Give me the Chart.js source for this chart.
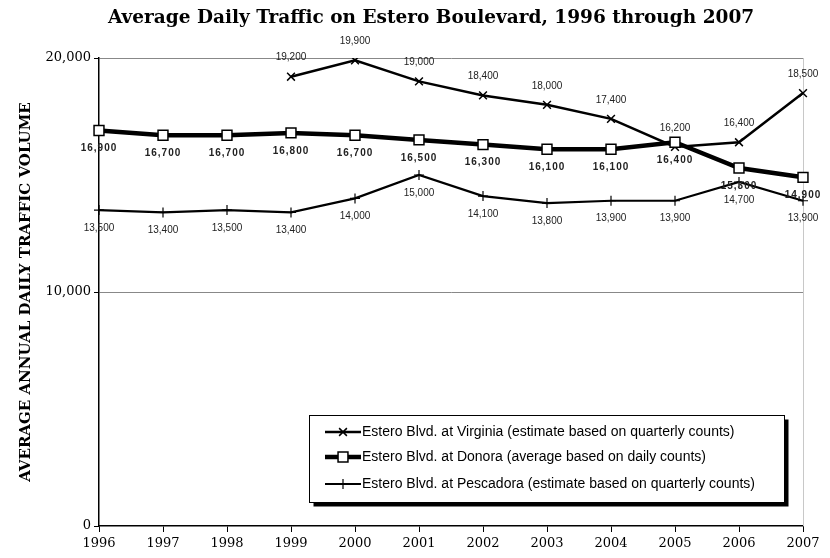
<!DOCTYPE html>
<html>
<head>
<meta charset="utf-8">
<script src="https://cdn.jsdelivr.net/npm/chart.js@4"></script>
<style>
  html, body { margin: 0; padding: 0; background: #fff; }
  canvas { display: block; }
</style>
</head>
<body>
<canvas id="myChart" width="830" height="558"></canvas>
<script>
// #region data
const years = ['1996', '1997', '1998', '1999', '2000', '2001', '2002', '2003', '2004', '2005', '2006', '2007'];

const virginia = [null, null, null, 19200, 19900, 19000, 18400, 18000, 17400, 16200, 16400, 18500];
const donora = [16900, 16700, 16700, 16800, 16700, 16500, 16300, 16100, 16100, 16400, 15300, 14900];
const pescadora = [13500, 13400, 13500, 13400, 14000, 15000, 14100, 13800, 13900, 13900, 14700, 13900];

const seriesNames = [
    'Estero Blvd. at Virginia (estimate based on quarterly counts)',
    'Estero Blvd. at Donora (average based on daily counts)',
    'Estero Blvd. at Pescadora (estimate based on quarterly counts)'
];

const yTicks = [0, 10000, 20000];
const chartTitle = 'Average Daily Traffic on Estero Boulevard, 1996 through 2007';
const yTitle = 'AVERAGE ANNUAL DAILY TRAFFIC VOLUME';
// #endregion data

const fmt = v => v.toLocaleString('en-US');

// title drawn by hand so it sits where the original one does
const titlePlugin = {
    id: 'titlePlugin',
    afterDraw(chart) {
        const ctx = chart.ctx;
        ctx.save();
        ctx.font = 'bold 18.5px "DejaVu Serif"';
        ctx.fillStyle = '#000';
        ctx.textAlign = 'center';
        ctx.textBaseline = 'alphabetic';
        ctx.fillText(chartTitle, 431, 23);
        ctx.restore();
    }
};

// thin grey line on the right edge of the plot
const frame = {
    id: 'frame',
    beforeDatasetsDraw(chart) {
        const { ctx, chartArea: a } = chart;
        ctx.save();
        ctx.strokeStyle = '#c8c8c8';
        ctx.lineWidth = 1;
        ctx.beginPath();
        ctx.moveTo(a.right + 0.5, a.top);
        ctx.lineTo(a.right + 0.5, a.bottom);
        ctx.stroke();
        ctx.restore();
    }
};

// value labels next to every point
const pointLabels = {
    id: 'pointLabels',
    afterDatasetsDraw(chart) {
        const ctx = chart.ctx;
        chart.data.datasets.forEach((ds, i) => {
            const meta = chart.getDatasetMeta(i);
            ctx.save();
            ctx.font = ds.labelFont;
            ctx.letterSpacing = ds.labelSpacing || '0px';
            ctx.fillStyle = '#222';
            ctx.textAlign = 'center';
            ctx.textBaseline = 'middle';
            meta.data.forEach((pt, j) => {
                const v = ds.data[j];
                if (v === null) return;
                ctx.fillText(fmt(v), pt.x, pt.y + ds.labelOffset);
            });
            ctx.restore();
        });
    }
};

// boxed legend with a drop shadow, inside the plot
const boxLegend = {
    id: 'boxLegend',
    afterDraw(chart) {
        const ctx = chart.ctx;
        const box = { x: 309.5, y: 415.5, w: 475, h: 87 };
        const rows = [432, 457, 484];
        ctx.save();
        ctx.fillStyle = '#000';
        ctx.fillRect(box.x + 4, box.y + 4, box.w, box.h);
        ctx.fillStyle = '#fff';
        ctx.fillRect(box.x, box.y, box.w, box.h);
        ctx.strokeStyle = '#000';
        ctx.lineWidth = 1;
        ctx.strokeRect(box.x, box.y, box.w, box.h);

        ctx.font = '14px "Liberation Sans", Arial, sans-serif';
        ctx.textBaseline = 'middle';
        chart.data.datasets.forEach((ds, i) => {
            const y = rows[i];
            ctx.strokeStyle = '#000';
            ctx.lineWidth = ds.borderWidth;
            ctx.beginPath();
            ctx.moveTo(325, y);
            ctx.lineTo(361, y);
            ctx.stroke();
            ctx.fillStyle = ds.pointBackgroundColor;
            ctx.lineWidth = ds.pointBorderWidth;
            Chart.helpers.drawPoint(ctx, {
                pointStyle: ds.pointStyle,
                radius: ds.pointRadius,
                borderWidth: ds.pointBorderWidth,
                rotation: 0
            }, 343, y);
            ctx.fillStyle = '#000';
            ctx.fillText(ds.label, 362, y);
        });
        ctx.restore();
    }
};

const ctx = document.getElementById('myChart').getContext('2d');

new Chart(ctx, {
    type: 'line',
    data: {
        labels: years,
        datasets: [
            {
                label: seriesNames[0],
                data: virginia,
                borderColor: '#000',
                borderWidth: 2.5,
                pointStyle: 'crossRot',
                pointRadius: 5.5,
                pointBorderWidth: 1.5,
                pointBorderColor: '#000',
                pointBackgroundColor: '#000',
                spanGaps: false,
                order: 1,
                labelFont: '10px "Liberation Sans Narrow", "Liberation Sans", sans-serif',
                labelOffset: -19
            },
            {
                label: seriesNames[1],
                data: donora,
                borderColor: '#000',
                borderWidth: 4.5,
                pointStyle: 'rect',
                pointRadius: 7,
                pointBorderWidth: 1.5,
                pointBorderColor: '#000',
                pointBackgroundColor: '#fff',
                order: 0,
                labelFont: 'bold 10px "Liberation Sans", sans-serif',
                labelSpacing: '1px',
                labelOffset: 18
            },
            {
                label: seriesNames[2],
                data: pescadora,
                borderColor: '#000',
                borderWidth: 2.2,
                pointStyle: 'cross',
                pointRadius: 5,
                pointBorderWidth: 1.2,
                pointBorderColor: '#000',
                pointBackgroundColor: '#000',
                order: 2,
                labelFont: '10px "Liberation Sans Narrow", "Liberation Sans", sans-serif',
                labelOffset: 18
            }
        ]
    },
    options: {
        responsive: false,
        animation: false,
        devicePixelRatio: 1,
        layout: {
            padding: { top: 58, right: 27, left: 0, bottom: 0 }
        },
        elements: {
            line: { tension: 0 }
        },
        plugins: {
            legend: { display: false },
            title: { display: false },
            tooltip: { enabled: false }
        },
        scales: {
            x: {
                type: 'category',
                offset: false,
                grid: {
                    drawOnChartArea: false,
                    drawTicks: true,
                    tickLength: 6,
                    tickColor: '#000'
                },
                border: { color: '#000', width: 1.5 },
                ticks: {
                    color: '#000',
                    font: { family: '"DejaVu Serif"', size: 13 },
                    padding: 4,
                    maxRotation: 0,
                    autoSkip: false
                },
                afterFit(scale) { scale.height = 32; }
            },
            y: {
                min: 0,
                max: 20000,
                afterBuildTicks(scale) {
                    scale.ticks = yTicks.map(v => ({ value: v }));
                },
                grid: {
                    color: c => (c.tick && c.tick.value === 0 ? 'rgba(0,0,0,0)' : '#888'),
                    tickColor: '#000',
                    tickLength: 5,
                    lineWidth: 1
                },
                border: { color: '#000', width: 1.5 },
                ticks: {
                    color: '#000',
                    font: { family: '"DejaVu Serif"', size: 13 },
                    padding: 3,
                    callback: v => fmt(v)
                },
                title: {
                    display: true,
                    text: yTitle,
                    color: '#000',
                    font: { family: '"DejaVu Serif"', size: 15, weight: 'bold' },
                    padding: { top: 17, bottom: 0 }
                },
                afterFit(scale) { scale.width = 99; }
            }
        }
    },
    plugins: [titlePlugin, frame, pointLabels, boxLegend]
});
</script>
</body>
</html>
